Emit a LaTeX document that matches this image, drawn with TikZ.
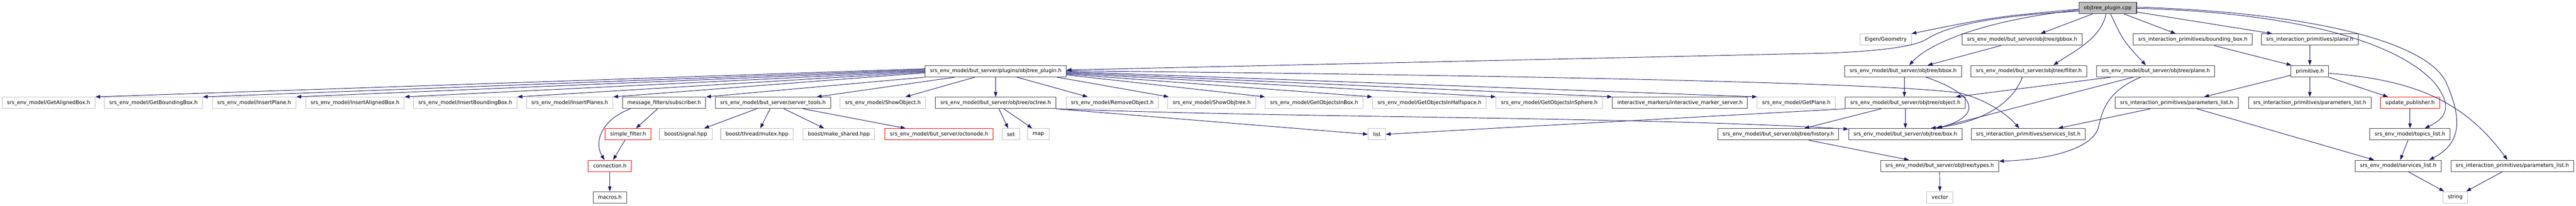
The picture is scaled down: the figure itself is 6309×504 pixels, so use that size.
\documentclass[tikz,border=0pt]{standalone}
\usepackage{fontspec}
\setmainfont{DejaVu Sans}
\usetikzlibrary{arrows.meta}
\definecolor{edgecol}{HTML}{191970}
\definecolor{nodeblk}{HTML}{404040}
\definecolor{nodegray}{HTML}{BFBFBF}
\definecolor{rootfill}{HTML}{BFBFBF}
\begin{document}
\begin{tikzpicture}[x=1pt,y=-1pt,
 base/.style={rectangle, minimum height=28pt, inner xsep=12pt, inner ysep=0pt, line width=1.3pt, fill=white, font=\fontsize{12.65}{15}\selectfont, text=black},
 nb/.style={base, draw=nodeblk},
 ng/.style={base, draw=nodegray},
 nr/.style={base, draw=red},
 nroot/.style={base, draw=nodeblk, fill=rootfill},
 arr/.style={draw=edgecol, line width=1.2pt, -{Triangle[length=12pt,width=8.5pt]}}
]
\useasboundingbox (0,0) rectangle (6309,504);
\fill[white] (0,0) rectangle (6309,504);
% row 1
\node[nroot] (root) at (5162,19.5) {objtree\_plugin.cpp};
% row 2
\node[ng] (eigen) at (4618.5,97) {Eigen/Geometry};
\node[nb] (gbbox) at (4952.5,97) {srs\_env\_model/but\_server/objtree/gbbox.h};
\node[nb] (ipbbox) at (5370.5,97) {srs\_interaction\_primitives/bounding\_box.h};
\node[nb] (ipplane) at (5657,97) {srs\_interaction\_primitives/plane.h};
% row 3
\node[nb] (plugh) at (2438.5,174.5) {srs\_env\_model/but\_server/plugins/objtree\_plugin.h};
\node[nb] (bbox) at (4661,174.5) {srs\_env\_model/but\_server/objtree/bbox.h};
\node[nb] (filter) at (4969,174.5) {srs\_env\_model/but\_server/objtree/filter.h};
\node[nb] (otplane) at (5279.5,174.5) {srs\_env\_model/but\_server/objtree/plane.h};
\node[nb] (prim) at (5657,174.5) {primitive.h};
% row 4
\node[ng] (getal) at (119,252) {srs\_env\_model/GetAlignedBox.h};
\node[ng] (getbb) at (376,252) {srs\_env\_model/GetBoundingBox.h};
\node[ng] (insp) at (622.5,252) {srs\_env\_model/InsertPlane.h};
\node[ng] (insab) at (869.5,252) {srs\_env\_model/InsertAlignedBox.h};
\node[ng] (insbb) at (1139.5,252) {srs\_env\_model/InsertBoundingBox.h};
\node[ng] (insps) at (1395.5,252) {srs\_env\_model/InsertPlanes.h};
\node[nb] (subs) at (1626.5,252) {message\_filters/subscriber.h};
\node[nb] (stools) at (1893,252) {srs\_env\_model/but\_server/server\_tools.h};
\node[ng] (showobj) at (2162.5,252) {srs\_env\_model/ShowObject.h};
\node[nb] (octree) at (2438.5,252) {srs\_env\_model/but\_server/objtree/octree.h};
\node[ng] (remobj) at (2724,252) {srs\_env\_model/RemoveObject.h};
\node[ng] (showot) at (2967.5,252) {srs\_env\_model/ShowObjtree.h};
\node[ng] (goib) at (3218.5,252) {srs\_env\_model/GetObjectsInBox.h};
\node[ng] (goih) at (3501,252) {srs\_env\_model/GetObjectsInHalfspace.h};
\node[ng] (gois) at (3794.5,252) {srs\_env\_model/GetObjectsInSphere.h};
\node[nb] (ims) at (4114.5,252) {interactive\_markers/interactive\_marker\_server.h};
\node[ng] (getpl) at (4399.5,252) {srs\_env\_model/GetPlane.h};
\node[nb] (object) at (4666.5,252) {srs\_env\_model/but\_server/objtree/object.h};
\node[nb] (pl1) at (5331,252) {srs\_interaction\_primitives/parameters\_list.h};
\node[nb] (pl2) at (5657,252) {srs\_interaction\_primitives/parameters\_list.h};
\node[nr] (updpub) at (5902.5,252) {update\_publisher.h};
% row 5
\node[nr] (sfilt) at (1538.5,329) {simple\_filter.h};
\node[ng] (bsig) at (1679.5,329) {boost/signal.hpp};
\node[ng] (bmutex) at (1854,329) {boost/thread/mutex.hpp};
\node[ng] (bmake) at (2054.5,329) {boost/make\_shared.hpp};
\node[nr] (octonode) at (2300,329) {srs\_env\_model/but\_server/octonode.h};
\node[ng] (set) at (2476,329) {set};
\node[ng] (map) at (2543,329) {map};
\node[ng] (list) at (3372,329) {list};
\node[nb] (history) at (4355,329) {srs\_env\_model/but\_server/objtree/history.h};
\node[nb] (box) at (4666.5,329) {srs\_env\_model/but\_server/objtree/box.h};
\node[nb] (ipserv) at (4967.5,329) {srs\_interaction\_primitives/services\_list.h};
\node[nb] (topics) at (5902.5,329) {srs\_env\_model/topics\_list.h};
% row 6
\node[nr] (conn) at (1493.5,406.5) {connection.h};
\node[nb] (types) at (4750.5,406.5) {srs\_env\_model/but\_server/objtree/types.h};
\node[nb] (envserv) at (5873.5,406.5) {srs\_env\_model/services\_list.h};
\node[nb] (pl3) at (6153,406.5) {srs\_interaction\_primitives/parameters\_list.h};
% row 7
\node[nb] (macros) at (1493.5,483.5) {macros.h};
\node[ng] (vector) at (4751,483.5) {vector};
\node[ng] (string) at (6013,483.5) {string};

% edges from root
\draw[arr] ([yshift=-8pt]root.west) .. controls (4850,40) and (4760,70) .. (4720,95) .. controls (4690,115) and (4600,125) .. (4480,130) -- ([yshift=3pt]plugh.east);
\draw[arr] ([yshift=-3pt]root.west) .. controls (4887,41) .. ([xshift=-1pt]eigen.north east);
\draw[arr] ([yshift=-5pt]root.west) .. controls (4850,50) and (4720,110) .. ([xshift=15pt]bbox.north);
\draw[arr] ([xshift=-37pt]root.south) -- ([xshift=45pt]gbbox.north);
\draw[arr] ([xshift=-4pt]root.south) .. controls (5145,95) and (5080,125) .. ([xshift=60pt]filter.north);
\draw[arr] ([xshift=7pt]root.south) .. controls (5200,100) .. ([xshift=-24pt]otplane.north);
\draw[arr] ([xshift=40pt]root.south) -- ([xshift=-42pt]ipbbox.north);
\draw[arr] ([yshift=-10pt]root.east) -- ([xshift=-92pt]ipplane.north);
\draw[arr] ([yshift=-1pt]root.east) .. controls (5600,30) and (5860,95) .. (5960,200) .. controls (6010,260) and (5990,290) .. ([xshift=36pt]topics.north);
\draw[arr] ([yshift=2pt]root.east) .. controls (5650,30) and (5940,100) .. (5990,200) .. controls (6030,290) and (6030,350) .. ([xshift=76pt]envserv.north);

% primitive side
\draw[arr] ([yshift=-10pt]prim.west) -- ([xshift=67pt]pl1.north);
\draw[arr] (prim.south) -- (pl2.north);
\draw[arr] (prim.south east) -- ([xshift=-54pt]updpub.north);
\draw[arr] ([yshift=-5pt]prim.east) .. controls (5900,195) and (6030,240) .. ([xshift=-12pt]pl3.north);
\draw[arr] ([xshift=52pt]ipbbox.south) -- ([xshift=2pt]prim.north west);
\draw[arr] (ipplane.south) -- (prim.north);
\draw[arr] (updpub.south) -- (topics.north);
\draw[arr] ([xshift=-5pt]topics.south) -- ([xshift=5pt]envserv.north);
\draw[arr] ([xshift=25pt]envserv.south) -- ([xshift=-27pt]string.north);
\draw[arr] ([xshift=-25pt]pl3.south) -- ([xshift=27pt]string.north);
\draw[arr] ([xshift=-65pt]pl1.south) -- ([xshift=73pt]ipserv.north);
\draw[arr] ([xshift=50pt]pl1.south) -- ([xshift=-59pt]envserv.north);

% objtree plane / bbox / filter / object
\draw[arr] ([xshift=-110pt]otplane.south) -- ([xshift=123pt]object.north);
\draw[arr] ([xshift=-55pt]otplane.south) -- ([xshift=75pt]box.north);
\draw[arr] ([xshift=-37pt]otplane.south) .. controls (5170,220) and (5150,260) .. (5140,310) .. controls (5125,370) and (5000,392) .. ([yshift=-3pt]types.north east);
\draw[arr] ([xshift=3pt]bbox.south) -- ([xshift=-2.5pt]object.north);
\draw[arr] ([xshift=56pt]bbox.south) .. controls (4850,235) and (4850,285) .. ([xshift=78pt]box.north);
\draw[arr] ([xshift=-52pt]gbbox.south) -- ([xshift=60pt]bbox.north);
\draw[arr] ([xshift=-16pt]filter.south) .. controls (4930,250) and (4860,300) .. ([xshift=62pt]box.north);
\draw[arr] (object.south) -- (box.north);
\draw[arr] ([xshift=-60pt]object.south) -- ([xshift=64pt]history.north);
\draw[arr] (object.south west) -- (list.east);
\draw[arr] ([xshift=75pt]history.south) -- ([xshift=-75pt]types.north);
\draw[arr] (types.south) -- (vector.north);

% octree
\draw[arr] ([xshift=8pt]octree.south) -- ([xshift=-7pt]set.north);
\draw[arr] ([xshift=20pt]octree.south) -- ([xshift=-15pt]map.north);
\draw[arr] (octree.south east) -- (list.west);
\draw[arr] (octree.south east) .. controls (3200,290) and (4000,285) .. ([yshift=-2pt]box.north west);

% message filters / server tools
\draw[arr] ([xshift=-16pt]subs.south) -- ([xshift=19pt]sfilt.north);
\draw[arr] ([xshift=-83pt]subs.south) .. controls (1470,295) and (1455,350) .. ([xshift=-13pt]conn.north);
\draw[arr] ([xshift=-8pt]sfilt.south) -- ([xshift=8pt]conn.north);
\draw[arr] (conn.south) -- (macros.north);
\draw[arr] ([xshift=-40pt]stools.south) -- ([xshift=45pt]bsig.north);
\draw[arr] ([xshift=-7pt]stools.south) -- ([xshift=8pt]bmutex.north);
\draw[arr] ([xshift=27pt]stools.south) -- ([xshift=-36pt]bmake.north);
\draw[arr] ([xshift=74pt]stools.south) -- ([xshift=-82pt]octonode.north);

% objtree_plugin.h
\draw[arr] ([yshift=6pt]plugh.west) -- (getal.north east);
\draw[arr] ([yshift=4pt]plugh.west) -- (getbb.north east);
\draw[arr] ([yshift=2pt]plugh.west) -- (insp.north east);
\draw[arr] (plugh.west) -- (insab.north east);
\draw[arr] ([yshift=-2pt]plugh.west) -- (insbb.north east);
\draw[arr] ([yshift=-4pt]plugh.west) -- (insps.north east);
\draw[arr] (plugh.south west) -- (subs.north east);
\draw[arr] ([xshift=-100pt]plugh.south) -- ([xshift=107pt]stools.north);
\draw[arr] ([xshift=-51pt]plugh.south) -- ([xshift=55pt]showobj.north);
\draw[arr] (plugh.south) -- (octree.north);
\draw[arr] ([xshift=52pt]plugh.south) -- ([xshift=-60pt]remobj.north);
\draw[arr] ([xshift=150pt]plugh.south) -- ([xshift=3pt]showot.north west);
\draw[arr] ([yshift=-9pt]plugh.east) -- (goib.north west);
\draw[arr] ([yshift=-7pt]plugh.east) -- (goih.north west);
\draw[arr] ([yshift=-5pt]plugh.east) -- (gois.north west);
\draw[arr] ([yshift=-3pt]plugh.east) -- (ims.north west);
\draw[arr] ([yshift=-1pt]plugh.east) -- (getpl.north west);
\draw[arr] ([yshift=1pt]plugh.east) .. controls (3800,185) and (4650,205) .. (4800,228) .. controls (4870,245) and (4920,285) .. ([xshift=-22pt]ipserv.north);
\end{tikzpicture}
\end{document}
